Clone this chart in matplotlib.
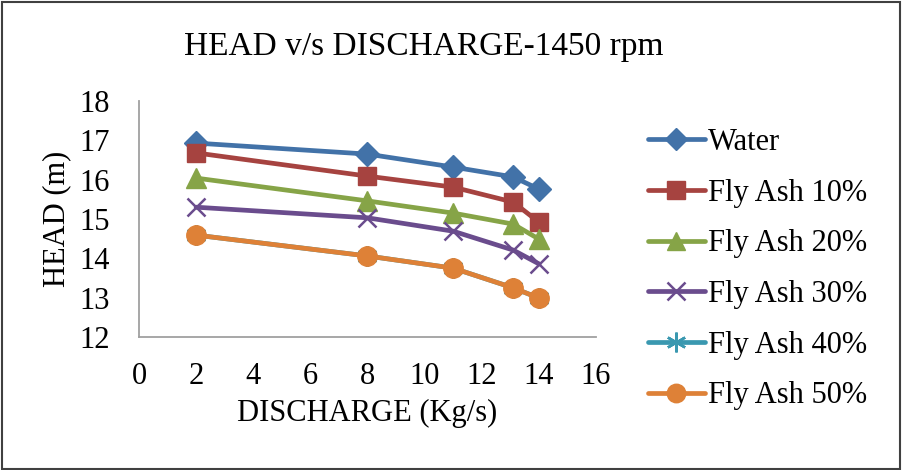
import matplotlib.pyplot as plt
from matplotlib.patches import Rectangle

plt.rcParams['font.family'] = ['Liberation Serif', 'DejaVu Serif']

# discharge (Kg/s)
discharge = [2, 8, 11, 13.1, 14]

# head (m) for each slurry
water = [16.93, 16.65, 16.32, 16.07, 15.76]
fly10 = [16.68, 16.09, 15.81, 15.43, 14.92]
fly20 = [16.04, 15.46, 15.15, 14.87, 14.49]
fly30 = [15.30, 15.03, 14.69, 14.21, 13.86]
fly40 = [14.59, 14.06, 13.75, 13.25, 12.99]
fly50 = [14.59, 14.06, 13.75, 13.25, 12.99]

series = [
    ('Water', water, '#4272A8', 'D', 12),
    ('Fly Ash 10%', fly10, '#A64340', 's', 13.5),
    ('Fly Ash 20%', fly20, '#86A447', '^', 14),
    ('Fly Ash 30%', fly30, '#6A4C8D', 'x', 13),
    ('Fly Ash 40%', fly40, '#3A98B0', (6, 2, 0), 15),
    ('Fly Ash 50%', fly50, '#DE8137', 'o', 14),
]

fig = plt.figure(figsize=(9.03, 4.70), dpi=100)
ax = fig.add_axes([139 / 903, 1 - 337 / 470, (596 - 139) / 903, (337 - 101) / 470])

for name, y, col, mk, ms in series:
    ax.plot(discharge, y, color=col, lw=3.4, marker=mk, markersize=ms,
            markeredgewidth=1.8 if mk in ('x', (6, 2, 0)) else 1,
            markeredgecolor=col, markerfacecolor=col, label=name,
            solid_capstyle='round')

ax.set_xlim(0, 16)
ax.set_ylim(12, 18)
ax.set_xticks(range(0, 17, 2))
ax.set_yticks(range(12, 19))
ax.tick_params(labelsize=22, length=0)
ax.tick_params(axis='y', pad=21)
ax.tick_params(axis='x', pad=18)
for s in ['top', 'right']:
    ax.spines[s].set_visible(False)
for s in ['left', 'bottom']:
    ax.spines[s].set_color('#A0A0A0')
    ax.spines[s].set_linewidth(1.3)

ax.set_xlabel('DISCHARGE (Kg/s)', fontsize=22, va='center')
ax.xaxis.set_label_coords(0.5, (337 - 413) / 236)
ax.set_ylabel('HEAD (m)', fontsize=22, va='center')
ax.yaxis.set_label_coords((57 - 139) / 457, 0.5)
fig.text(424 / 903, 1 - 47 / 470, 'HEAD v/s DISCHARGE-1450 rpm', fontsize=24,
         ha='center', va='center')

leg = ax.legend(loc='upper left', bbox_to_anchor=(648 / 903, 1 - 128 / 470),
                bbox_transform=fig.transFigure, frameon=False, fontsize=22,
                handlelength=1.85, handletextpad=0.1, labelspacing=0.71,
                borderaxespad=0, borderpad=0)
for h in leg.legend_handles:
    h.set_markersize(h.get_markersize() * 0.95)

fig.patches.append(Rectangle((0.002, 0.003), 0.995, 0.993, transform=fig.transFigure,
                             fill=False, edgecolor='#404040', lw=1.5))

fig.savefig('out.png', dpi=100)
